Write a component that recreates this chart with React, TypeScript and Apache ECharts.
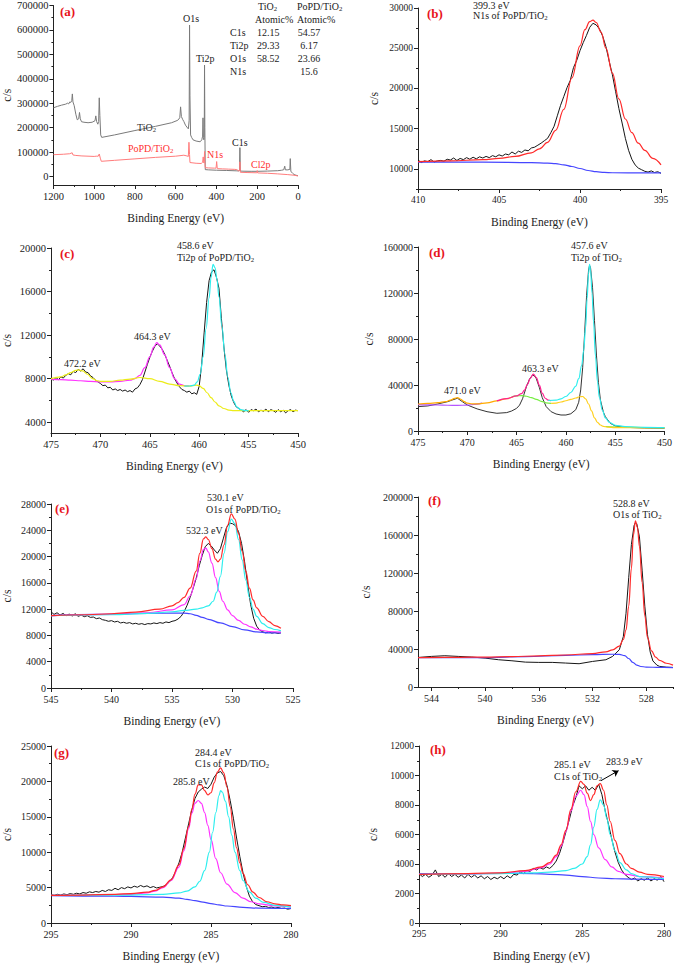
import React, { useEffect, useRef } from "react";
import * as echarts from "echarts";

type P = [number, number][];
const FONT = "'Liberation Serif', serif";
const INK = "#222";

// ---------- (a) survey ----------
const aXTicks = [0, 200, 400, 600, 800, 1000, 1200];
const aYTicks = [0, 100000, 200000, 300000, 400000, 500000, 600000, 700000];
const aTiO2: P = [[1200,281000],[1180,287000],[1160,292000],[1140,296000],[1130,300000],[1125,297000],[1120,305000],[1115,303000],[1110,310000],[1107,338000],[1104,305000],[1098,290000],[1090,255000],[1083,232000],[1076,236000],[1072,262000],[1068,236000],[1062,224000],[1050,222000],[1030,220000],[1010,222000],[996,228000],[992,248000],[988,225000],[982,214000],[978,225000],[975,322000],[972,250000],[968,170000],[963,160000],[900,170000],[800,188000],[700,205000],[620,220000],[590,230000],[580,240000],[576,285000],[572,245000],[565,232000],[560,225000],[552,210000],[545,202000],[538,195000],[534,230000],[532,620000],[530,330000],[527,170000],[522,160000],[515,150000],[500,145000],[480,142000],[472,150000],[468,165000],[466,240000],[464,160000],[462,150000],[460,160000],[458.5,456000],[457,200000],[455,28000],[440,27000],[400,25500],[350,24500],[300,23000],[290,22500],[287,26000],[285,118000],[283,22000],[270,21500],[230,21000],[200,21000],[150,22000],[100,23500],[80,25500],[70,27500],[65,42000],[62,27000],[50,27000],[40,29000],[38,73000],[35,20000],[30,17000],[25,12000],[20,8000],[10,5000],[0,3000]];
const aPoPD: P = [[1200,89000],[1150,91000],[1120,93000],[1108,97000],[1104,88000],[1090,86000],[1060,84000],[1000,82000],[990,83000],[980,83000],[975,92000],[970,75000],[965,62000],[900,66000],[800,72000],[700,78000],[600,83000],[560,87000],[545,84000],[538,82000],[535,140000],[532,90000],[530,57000],[500,54000],[475,53000],[468,58000],[465,80000],[462,55000],[460,62000],[458.5,102000],[457,60000],[455,36000],[440,35000],[410,34000],[402,34000],[399,61000],[396,32000],[370,31000],[340,30000],[310,29000],[300,28000],[290,22000],[286,26000],[285,60000],[283,17000],[250,16000],[202,15000],[200,24000],[198,14500],[150,13000],[100,10500],[50,7500],[20,5000],[0,2000]];
const tableElems = ["C1s", "Ti2p", "O1s", "N1s"];
const tableTiO2 = ["12.15", "29.33", "58.52", ""];
const tablePoPD = ["54.57", "6.17", "23.66", "15.6"];

// ---------- (b) N1s PoPD/TiO2 ----------
const bXTicks = [395, 400, 405, 410];
const bYTicks = [10000, 15000, 20000, 25000, 30000];
const bRaw: P = [[410,11100],[409.8,10800],[409.6,11000],[409.4,10900],[409.2,11150],[409,10850],[408.8,11000],[408.6,11050],[408.4,10950],[408.2,11200],[408,11100],[407.8,11350],[407.6,11050],[407.4,11300],[407.2,11150],[407,11400],[406.8,11200],[406.6,11450],[406.4,11250],[406.2,11500],[406,11350],[405.8,11550],[405.6,11400],[405.4,11650],[405.2,11500],[405,11750],[404.8,11600],[404.6,11850],[404.4,11750],[404.2,12100],[404,11850],[403.8,12200],[403.6,12050],[403.4,12350],[403.2,12250],[403,12600],[402.8,12700],[402.6,12950],[402.4,13200],[402.2,13500],[402,13800],[401.8,14500],[401.6,15300],[401.4,16600],[401.2,17900],[401,19000],[400.8,20100],[400.6,21000],[400.4,22600],[400.2,23500],[400,24700],[399.8,25700],[399.6,26600],[399.4,27600],[399.2,28100],[399,27900],[398.8,27400],[398.6,26500],[398.4,25200],[398.2,23400],[398,21700],[397.8,19600],[397.6,17500],[397.4,15700],[397.2,13800],[397,12300],[396.8,11200],[396.6,10500],[396.4,10100],[396.2,9900],[396,9700],[395.8,9600],[395.6,9750],[395.4,9550],[395.2,9650],[395,9450]];
const bFit: P = [[410,10900],[408,11000],[406,11150],[405,11300],[404,11550],[403,12000],[402.5,12500],[402,13300],[401.5,14800],[401,17400],[400.5,21300],[400,25300],[399.7,27300],[399.4,28300],[399.2,28500],[399,28200],[398.7,27000],[398.4,25000],[398,21900],[397.6,18700],[397.2,16200],[396.8,14500],[396.4,13200],[396,12300],[395.5,11300],[395,10500]];
const bBg: P = [[410,10850],[406,10830],[403,10780],[402,10720],[401.5,10650],[401,10500],[400.5,10300],[400,10050],[399.5,9800],[399,9650],[398.5,9560],[398,9520],[395,9500]];

// ---------- (c) Ti2p PoPD/TiO2 ----------
const cXTicks = [450, 455, 460, 465, 470, 475];
const cYTicks = [4000, 8000, 12000, 16000, 20000];
const cRaw: P = [[475,8000],[474.75,7850],[474.5,8100],[474.25,7900],[474,8150],[473.75,8050],[473.5,8300],[473.25,8450],[473,8350],[472.75,8650],[472.5,8550],[472.25,8850],[472,8700],[471.75,8900],[471.5,8600],[471.25,8550],[471,8250],[470.75,8100],[470.5,7850],[470.25,7700],[470,7550],[469.75,7350],[469.5,7400],[469.25,7150],[469,7200],[468.75,6950],[468.5,7050],[468.25,6900],[468,7000],[467.75,6850],[467.5,6950],[467.25,6800],[467,6900],[466.75,6750],[466.5,7050],[466.25,7150],[466,7450],[465.75,7900],[465.5,8600],[465.25,9300],[465,9950],[464.75,10500],[464.5,10950],[464.25,11200],[464,11000],[463.75,10700],[463.5,10250],[463.25,9700],[463,9150],[462.75,8550],[462.5,8000],[462.25,7600],[462,7250],[461.75,7000],[461.5,6900],[461.25,6750],[461,6850],[460.75,6600],[460.5,6700],[460.25,6550],[460,7300],[459.75,9300],[459.5,12200],[459.25,15000],[459,17000],[458.75,17800],[458.5,18000],[458.25,17300],[458,16300],[457.75,13500],[457.5,10900],[457.25,8800],[457,7400],[456.75,6400],[456.5,5800],[456.25,5400],[456,5250],[455.75,5100],[455.5,4950],[455.25,5150],[455,4900],[454.75,5150],[454.5,5050],[454.25,5200],[454,4950],[453.75,5100],[453.5,5000],[453.25,5200],[453,4950],[452.75,5150],[452.5,5050],[452.25,4900],[452,5150],[451.75,4950],[451.5,5100],[451.25,4850],[451,5050],[450.75,5150],[450.5,4950],[450.25,5100],[450,5050]];
const cMag: P = [[475,7950],[474,7900],[473,7850],[472,7800],[471,7750],[470,7700],[469,7700],[468,7750],[467,7850],[466.5,8000],[466,8300],[465.5,9000],[465,10000],[464.6,10900],[464.3,11300],[464,11100],[463.5,10200],[463,9000],[462.5,8000],[462,7500],[461.5,7350],[461,7300]];
const cYel: P = [[475,8000],[474,8150],[473.5,8350],[473,8550],[472.5,8750],[472.2,8800],[471.8,8700],[471.3,8400],[470.8,8000],[470.3,7800],[470,7750],[469,7750],[468,7850],[467,7950],[466,8100],[465,8000],[464,7750],[463,7500],[462,7350],[461,7300],[460.3,7400],[460,7350],[459.6,7100],[459.2,6700],[458.8,6250],[458.4,5850],[458,5500],[457.5,5250],[457,5100],[456.5,5060],[456,5050],[450,5050]];
const cCyan: P = [[461.5,7300],[461,7320],[460.5,7400],[460.2,7700],[459.9,8400],[459.6,10000],[459.3,12600],[459,15400],[458.8,17300],[458.6,18500],[458.4,18200],[458.2,17100],[458,15500],[457.7,12800],[457.4,10200],[457.1,8100],[456.8,6700],[456.5,5900],[456.2,5400],[455.8,5150],[455.3,5060],[455,5050]];

// ---------- (d) Ti2p TiO2 ----------
const dXTicks = [450, 455, 460, 465, 470, 475];
const dYTicks = [0, 40000, 80000, 120000, 160000];
const dRaw: P = [[475,21200],[474,21800],[473,23500],[472,25500],[471.5,27000],[471,28500],[470.5,25500],[470,22600],[469,19200],[468,16800],[467,15400],[466,16000],[465.5,17400],[465,19700],[464.7,22500],[464.4,28000],[464,38600],[463.7,45000],[463.4,48500],[463.2,48000],[463,45500],[462.7,38000],[462.4,29000],[462,21200],[461.5,16800],[461,14800],[460.5,13900],[460,13900],[459.5,15000],[459,18500],[458.7,25000],[458.5,35700],[458.3,55000],[458.1,85000],[457.9,118000],[457.7,140000],[457.6,144000],[457.5,142000],[457.3,125000],[457.1,96000],[456.9,66000],[456.7,42000],[456.5,27000],[456.2,16500],[456,12500],[455.5,6700],[455,4400],[454,3200],[452,2600],[450,2300]];
const dOrange: P = [[475,23500],[474,24000],[473,24600],[472.2,25500],[471.7,26800],[471.3,28300],[471,29000],[470.7,27800],[470.3,25500],[470,24200],[469.5,23600],[469,23600],[468,24500],[467,26200],[466,28200],[465.3,30000]];
const dPurple: P = [[475,23000],[474,22800],[473,22600],[472,22400],[471,22300],[470,22500],[469.3,23200],[468.5,24200]];
const dPink: P = [[467,26200],[466,28200],[465,30500],[464.5,32500],[464.2,35500],[463.9,40500],[463.6,46000],[463.3,49500],[463,46500],[462.7,40000],[462.4,33000],[462.1,28500],[461.8,26800],[461.5,26300]];
const dGreenMid: P = [[465.5,29800],[465,30500],[464.5,30800],[464,30200],[463.5,29000],[463,27500],[462.5,25800],[462,24500],[461.5,24000]];
const dGreenTail: P = [[456,3900],[454,3300],[452,3050],[450,2950]];
const dYellow: P = [[461.5,24000],[461,24300],[460.5,25200],[460,26300],[459.5,27500],[459,28700],[458.6,29800],[458.3,30000],[458,28000],[457.7,23500],[457.4,17500],[457.1,11500],[456.8,7500],[456.5,5200],[456.2,4000],[455.8,3400],[455,3000],[452,2800],[450,2800]];
const dCyan: P = [[461.8,26500],[461,26800],[460.5,28000],[460,30000],[459.5,33500],[459,39000],[458.7,45500],[458.4,57000],[458.2,70000],[458,90000],[457.85,115000],[457.7,137000],[457.6,145000],[457.5,140000],[457.35,120000],[457.2,95000],[457,65000],[456.8,43000],[456.6,29000],[456.3,18000],[456,11500],[455.6,7500],[455,5000],[454,3800],[452,3200],[450,3000]];

// ---------- (e) O1s PoPD/TiO2 ----------
const eXTicks = [525, 530, 535, 540, 545];
const eYTicks = [0, 4000, 8000, 12000, 16000, 20000, 24000, 28000];
const eRaw: P = [[545,11600],[544.75,11200],[544.5,11450],[544.25,11100],[544,11350],[543.75,11000],[543.5,11250],[543.25,10950],[543,11300],[542.75,10900],[542.5,11100],[542.25,10850],[542,11000],[541.75,10750],[541.5,10800],[541.25,10550],[541,10650],[540.75,10400],[540.5,10300],[540.25,10150],[540,10250],[539.75,10050],[539.5,10150],[539.25,9900],[539,10000],[538.75,9850],[538.5,9950],[538.25,9750],[538,9850],[537.75,9700],[537.5,9800],[537.25,9650],[537,9800],[536.75,9750],[536.5,9900],[536.25,9800],[536,9950],[535.75,9850],[535.5,10050],[535.25,9950],[535,10150],[534.75,10250],[534.5,10500],[534.25,10900],[534,11600],[533.75,12600],[533.5,13800],[533.25,15200],[533,16700],[532.75,18600],[532.5,20200],[532.25,21500],[532,22000],[531.75,21600],[531.5,21000],[531.25,20500],[531,21200],[530.75,22800],[530.5,24400],[530.25,25100],[530,25000],[529.75,24700],[529.5,23800],[529.25,22000],[529,19200],[528.75,15800],[528.5,12700],[528.25,10600],[528,9400],[527.75,8800],[527.5,8550],[527.25,8400],[527,8550],[526.75,8350],[526.5,8450],[526.25,8300],[526,8400]];
const eFit: P = [[545,11000],[542,11150],[540,11300],[538,11550],[536,12000],[535,12500],[534.5,13000],[534,13800],[533.5,15200],[533,17800],[532.7,20500],[532.4,22700],[532.2,23000],[532,22600],[531.7,21200],[531.4,19600],[531.2,19200],[531,19600],[530.7,21800],[530.4,24800],[530.1,26500],[529.8,25700],[529.5,23500],[529.2,20800],[528.9,17800],[528.6,15200],[528.3,13400],[528,12200],[527.5,10900],[527,10100],[526.5,9500],[526,9100]];
const eMag: P = [[545,11000],[540,11200],[537,11450],[535,11900],[534,12700],[533.5,14000],[533,16600],[532.7,19300],[532.4,21100],[532.2,21300],[532,20700],[531.7,19000],[531.4,16800],[531.1,14700],[530.8,13200],[530.4,11900],[530,11000],[529.5,10300],[529,9700],[528.5,9300],[528,8950],[527.5,8750],[527,8600],[526,8500]];
const eCyan: P = [[545,11000],[540,11150],[537,11350],[535,11600],[534,11800],[533,12000],[532.5,12200],[532,12500],[531.6,13200],[531.3,14600],[531,17000],[530.7,20500],[530.4,23800],[530.1,25700],[529.8,25000],[529.5,22600],[529.2,19500],[528.9,16400],[528.6,13800],[528.3,12000],[528,10900],[527.5,9800],[527,9200],[526.5,8900],[526,8700]];
const eBg: P = [[545,11000],[541,11200],[537,11350],[535,11400],[534,11400],[533.5,11300],[533,11050],[532.5,10750],[532,10450],[531,9900],[530,9350],[529,8850],[528,8550],[527,8400],[526,8400]];

// ---------- (f) O1s TiO2 ----------
const fXTicks = [528, 532, 536, 540, 544];
const fYTicks = [0, 40000, 80000, 120000, 160000, 200000];
const fRaw: P = [[545,31100],[544,32200],[543,32900],[542,32200],[541,31500],[540,30400],[539,28700],[538,27600],[537,26200],[536,25900],[535,25900],[534,25200],[533,24500],[532,26900],[531,28700],[530.5,32200],[530,39200],[529.7,53100],[529.5,77600],[529.3,115000],[529.1,150000],[528.9,170000],[528.8,173000],[528.7,172000],[528.5,158000],[528.3,123000],[528.1,85000],[527.9,55000],[527.7,37000],[527.5,27500],[527.2,23000],[527,21700],[526.5,20900],[526,20600]];
const fFit: P = [[545,31000],[542,31200],[540,31500],[538,32000],[536,32700],[534,33700],[532,35200],[531,37000],[530.5,39000],[530,43000],[529.7,50000],[529.5,60000],[529.3,85000],[529.1,125000],[528.95,160000],[528.8,175000],[528.65,168000],[528.5,148000],[528.3,110000],[528.1,75000],[527.9,52000],[527.6,38000],[527.3,31500],[527,28000],[526.5,25000],[526,23000]];
const fBg: P = [[545,31000],[540,31000],[537,32000],[534,33300],[532,34100],[530.5,34500],[530,34300],[529.6,33000],[529.3,30000],[529,26000],[528.7,23000],[528.4,21600],[528,21000],[527,20600],[526,20500]];

// ---------- (g) C1s PoPD/TiO2 ----------
const gXTicks = [280, 285, 290, 295];
const gYTicks = [0, 5000, 10000, 15000, 20000, 25000];
const gRaw: P = [[295,4000],[294.8,3900],[294.6,4050],[294.4,3950],[294.2,4100],[294,4000],[293.8,4150],[293.6,4050],[293.4,4200],[293.2,4100],[293,4300],[292.8,4200],[292.6,4400],[292.4,4300],[292.2,4450],[292,4350],[291.8,4600],[291.6,4450],[291.4,4700],[291.2,4600],[291,4900],[290.8,4700],[290.6,5000],[290.4,4850],[290.2,5100],[290,4950],[289.8,5200],[289.6,5050],[289.4,5300],[289.2,5100],[289,5250],[288.8,5000],[288.6,5150],[288.4,4950],[288.2,5050],[288,5150],[287.8,5400],[287.6,5800],[287.4,6400],[287.2,7300],[287,8500],[286.8,10000],[286.6,12000],[286.4,14000],[286.2,16000],[286,17600],[285.8,18500],[285.6,18900],[285.4,19200],[285.2,19000],[285,19600],[284.8,20600],[284.6,21200],[284.4,21400],[284.2,20800],[284,19400],[283.8,17300],[283.6,14800],[283.4,12000],[283.2,9400],[283,7100],[282.8,5200],[282.6,3800],[282.4,3000],[282.2,2600],[282,2450],[281.8,2300],[281.6,2350],[281.4,2200],[281.2,2250],[281,2100],[280.8,2200],[280.6,2050],[280.4,2100],[280.2,1950],[280,2050]];
const gFit: P = [[295,3900],[293,3950],[291,4050],[290,4150],[289,4350],[288.5,4600],[288,5100],[287.5,6100],[287,8200],[286.7,10500],[286.4,13600],[286.2,16000],[286,18200],[285.8,19500],[285.6,19500],[285.4,18700],[285.2,18100],[285,18400],[284.8,19800],[284.6,21300],[284.4,21900],[284.2,21200],[284,19200],[283.8,16400],[283.6,13300],[283.4,10600],[283.2,8500],[283,7000],[282.7,5400],[282.4,4400],[282,3600],[281.5,3000],[281,2700],[280.5,2550],[280,2450]];
const gMag: P = [[295,3900],[292,3950],[290,4050],[289,4250],[288.5,4500],[288,5000],[287.5,6000],[287,7900],[286.7,10200],[286.4,13300],[286.2,15500],[286,16900],[285.8,17300],[285.6,16900],[285.4,15600],[285.2,13800],[285,11800],[284.7,9100],[284.4,7100],[284,5500],[283.5,4300],[283,3500],[282.5,3000],[282,2700],[281,2400],[280,2250]];
const gCyan: P = [[295,3900],[290,3950],[288,4050],[287,4250],[286.5,4500],[286,5100],[285.7,5900],[285.4,7400],[285.1,10000],[284.9,12800],[284.7,15600],[284.5,18000],[284.4,18700],[284.3,18500],[284.1,17200],[283.9,15000],[283.7,12400],[283.5,10000],[283.2,7400],[283,6000],[282.6,4400],[282.2,3500],[281.7,2900],[281,2500],[280,2250]];
const gBg: P = [[295,3850],[292,3800],[290,3750],[288,3650],[287,3500],[286.5,3350],[286,3150],[285.5,2950],[285,2750],[284.5,2550],[284,2400],[283,2200],[282,2100],[280,2050]];

// ---------- (h) C1s TiO2 ----------
const hXTicks = [280, 285, 290, 295];
const hYTicks = [0, 2000, 4000, 6000, 8000, 10000, 12000];
const hRaw: P = [[295,3350],[294.8,3150],[294.6,3300],[294.4,3100],[294.2,3250],[294,3600],[293.8,3150],[293.6,3300],[293.4,3100],[293.2,3350],[293,3150],[292.8,3300],[292.6,3100],[292.4,3250],[292.2,3050],[292,3300],[291.8,3100],[291.6,3250],[291.4,3050],[291.2,3200],[291,3000],[290.8,3150],[290.6,2950],[290.4,3100],[290.2,3000],[290,3150],[289.8,3000],[289.6,3200],[289.4,3050],[289.2,3300],[289,3250],[288.8,3450],[288.6,3350],[288.4,3550],[288.2,3500],[288,3700],[287.8,3600],[287.6,3750],[287.4,3650],[287.2,3800],[287,3700],[286.8,3900],[286.6,4200],[286.4,4700],[286.2,5400],[286,6200],[285.8,7000],[285.6,7900],[285.4,8500],[285.2,9300],[285,9100],[284.8,9300],[284.6,9000],[284.4,9200],[284.2,9000],[284,9400],[283.8,8700],[283.6,7600],[283.4,6700],[283.2,5700],[283,4800],[282.8,4100],[282.6,3600],[282.4,3300],[282.2,3100],[282,2950],[281.8,3050],[281.6,2850],[281.4,3000],[281.2,2900],[281,3050],[280.8,2850],[280.6,3000],[280.4,2900],[280.2,3150],[280,2800]];
const hFit: P = [[295,3300],[292,3350],[290,3400],[288.5,3550],[287.5,3800],[287,4100],[286.6,4600],[286.3,5300],[286,6300],[285.7,7700],[285.4,8900],[285.1,9600],[284.9,9400],[284.7,8800],[284.5,8300],[284.3,8700],[284.1,9300],[283.9,9450],[283.7,9000],[283.5,8000],[283.3,6900],[283,5600],[282.7,4700],[282.3,4000],[282,3700],[281.5,3450],[281,3300],[280,3150]];
const hMag: P = [[295,3300],[292,3330],[290,3370],[288.5,3500],[287.5,3750],[287,4000],[286.6,4500],[286.3,5200],[286,6200],[285.7,7600],[285.4,8600],[285.1,9000],[284.9,8700],[284.7,7900],[284.5,6900],[284.3,6000],[284,5100],[283.6,4300],[283.2,3800],[282.8,3500],[282.3,3300],[281.5,3150],[280,3050]];
const hCyan: P = [[295,3300],[290,3350],[288,3400],[287,3450],[286,3550],[285.5,3700],[285,4000],[284.7,4500],[284.5,5300],[284.3,6500],[284.1,7700],[283.9,8350],[283.7,8000],[283.5,7100],[283.3,6000],[283,4900],[282.7,4100],[282.3,3600],[282,3350],[281.5,3150],[280,3000]];
const hBg: P = [[295,3350],[292,3350],[290,3360],[288,3350],[287,3300],[286,3250],[285,3150],[284,3050],[283,3000],[282,2980],[280,2950]];
const hArrow: P = [[283.86, 9650], [282.78, 10330]];

// ---------- colours ----------
const C = {
  raw: "#151515", red: "#ff2a2a", blue: "#4646ff", mag: "#ff33ff", cyan: "#2eeeee",
  yel: "#ecec1a", orange: "#ffaa00", pink: "#ff2090", green: "#77ee44", purple: "#b455ff",
  grey: "#7a7a7a", lightRed: "#ff7c7c",
};

function minors(major: number[], min: number, max: number) {
  const out: number[] = [];
  const step = major[1] - major[0];
  if (major[0] - step / 2 >= min) out.push(major[0] - step / 2);
  for (let i = 0; i < major.length - 1; i++) out.push((major[i] + major[i + 1]) / 2);
  const last = major[major.length - 1];
  if (last + step / 2 <= max) out.push(last + step / 2);
  return out;
}

const panels = [
  { box: [45, 5, 253, 180], x: [0, 1200], y: [-35000, 700000], xt: aXTicks, yt: aYTicks, fs: 10.5, gy: 35 },
  { box: [418, 8, 243, 181], x: [395, 410], y: [7500, 30000], xt: bXTicks, yt: bYTicks, fs: 9.5, gy: 38 },
  { box: [50, 248, 248, 185], x: [450, 475], y: [3000, 20000], xt: cXTicks, yt: cYTicks, fs: 10.5, gy: 38 },
  { box: [418, 247, 248, 184], x: [450, 475], y: [0, 160000], xt: dXTicks, yt: dYTicks, fs: 10, gy: 43 },
  { box: [45, 504, 248, 184], x: [525, 545], y: [0, 28000], xt: eXTicks, yt: eYTicks, fs: 10, gy: 38 },
  { box: [418, 497, 255, 190], x: [526, 545], y: [0, 200000], xt: fXTicks, yt: fYTicks, fs: 10, gy: 46 },
  { box: [45, 746, 246, 183], x: [280, 295], y: [0, 25000], xt: gXTicks, yt: gYTicks, fs: 10, gy: 38 },
  { box: [419, 746, 245, 183], x: [280, 295], y: [0, 12000], xt: hXTicks, yt: hYTicks, fs: 9.5, gy: 40 },
];

function S(i: number, data: P, color: string, width = 1.1, smooth: boolean | number = false): any {
  return {
    type: "line", xAxisIndex: i * 2, yAxisIndex: i * 2, data, symbol: "none", showSymbol: false,
    smooth, smoothMonotone: smooth ? "x" : undefined, lineStyle: { color, width }, itemStyle: { color },
    silent: true, z: 2,
  };
}

function rich(s: string, fs: number, color: string, weight = "normal") {
  const text = "{n|" + s.replace(/_(\d)/g, "}{s|$1}{n|") + "}";
  return {
    text,
    fill: color,
    fontSize: fs,
    fontFamily: FONT,
    fontWeight: weight,
    rich: {
      n: { fontSize: fs, fontFamily: FONT, fill: color, fontWeight: weight },
      s: { fontSize: fs * 0.68, fontFamily: FONT, fill: color, padding: [fs * 0.55, 0, 0, 0] },
    },
  };
}

function T(x: number, y: number, s: string, opt: any = {}) {
  const fs = opt.fs ?? 10;
  return {
    type: "text", x, y, silent: true, z: 10,
    style: { ...rich(s, fs, opt.color ?? INK, opt.weight ?? "normal"), align: opt.align ?? "left", verticalAlign: "middle" },
  };
}

function buildOption() {
  const grid: any[] = [], xAxis: any[] = [], yAxis: any[] = [];
  panels.forEach((p, i) => {
    const [l, t, w, h] = p.box;
    grid.push({ left: l, top: t, width: w, height: h, containLabel: false });
    const line = { lineStyle: { color: INK, width: 1 } };
    const lab = { fontSize: p.fs, fontFamily: FONT, color: INK };
    xAxis.push({
      type: "value", gridIndex: i, min: p.x[0], max: p.x[1], inverse: true, position: "bottom",
      axisLine: { show: true, onZero: false, ...line }, splitLine: { show: false },
      axisTick: { show: true, length: 4, customValues: p.xt, ...line },
      axisLabel: { ...lab, margin: 6, customValues: p.xt, formatter: (v: number) => String(v) },
      name: "Binding Energy (eV)", nameLocation: "middle", nameGap: 27,
      nameTextStyle: { fontSize: 11.5, fontFamily: FONT, fontWeight: "normal", color: INK },
    });
    xAxis.push({
      type: "value", gridIndex: i, min: p.x[0], max: p.x[1], inverse: true, position: "bottom",
      axisLine: { show: false, onZero: false }, splitLine: { show: false },
      axisTick: { show: true, length: 2, customValues: minors(p.xt, p.x[0], p.x[1]), ...line },
      axisLabel: { show: false },
    });
    yAxis.push({
      type: "value", gridIndex: i, min: p.y[0], max: p.y[1], position: "left",
      axisLine: { show: true, onZero: false, ...line }, splitLine: { show: false },
      axisTick: { show: true, length: 4, customValues: p.yt, ...line },
      axisLabel: { ...lab, margin: 5, customValues: p.yt, formatter: (v: number) => String(v) },
      name: "c/s", nameLocation: "middle", nameGap: p.gy,
      nameTextStyle: { fontSize: 11.5, fontFamily: FONT, fontWeight: "normal", color: INK },
    });
    yAxis.push({
      type: "value", gridIndex: i, min: p.y[0], max: p.y[1], position: "left",
      axisLine: { show: false, onZero: false }, splitLine: { show: false },
      axisTick: { show: true, length: 2, customValues: minors(p.yt, p.y[0], p.y[1]), ...line },
      axisLabel: { show: false },
    });
  });

  const series: any[] = [
    S(0, aTiO2, C.grey, 1), S(0, aPoPD, C.lightRed, 1),
    S(1, bRaw, C.raw, 1), S(1, bBg, C.blue, 1.2, 0.4), S(1, bFit, C.red, 1.2, 0.4),
    S(2, cRaw, C.raw, 1), S(2, cMag, C.mag, 1.2, 0.4), S(2, cYel, C.yel, 1.2, 0.4), S(2, cCyan, C.cyan, 1.2, 0.4),
    S(3, dRaw, "#333", 1), S(3, dPurple, C.purple, 1.2, 0.4), S(3, dOrange, C.orange, 1.2, 0.4),
    S(3, dGreenMid, C.green, 1.2, 0.4), S(3, dGreenTail, C.green, 1.2, 0.4), S(3, dYellow, "#ffd020", 1.2, 0.4),
    S(3, dPink, C.pink, 1.2, 0.4), S(3, dCyan, C.cyan, 1.2, 0.4),
    S(4, eRaw, C.raw, 1), S(4, eBg, C.blue, 1.2, 0.4), S(4, eMag, C.mag, 1.2, 0.4), S(4, eCyan, C.cyan, 1.2, 0.4), S(4, eFit, C.red, 1.2, 0.4),
    S(5, fRaw, C.raw, 1), S(5, fBg, C.blue, 1.2, 0.4), S(5, fFit, C.red, 1.2, 0.4),
    S(6, gRaw, C.raw, 1), S(6, gBg, C.blue, 1.2, 0.4), S(6, gMag, C.mag, 1.2, 0.4), S(6, gCyan, C.cyan, 1.2, 0.4), S(6, gFit, C.red, 1.2, 0.4),
    S(7, hRaw, C.raw, 1), S(7, hBg, C.blue, 1.2, 0.4), S(7, hMag, C.mag, 1.2, 0.4), S(7, hCyan, C.cyan, 1.2, 0.4),
    {
      ...S(7, hFit, C.red, 1.2, 0.4),
      markLine: {
        silent: true, symbol: ["none", "arrow"], symbolSize: 6, label: { show: false },
        lineStyle: { color: "#000", width: 1, type: "solid" },
        data: [[{ coord: hArrow[0] }, { coord: hArrow[1] }]],
      },
    },
  ];

  const red = "#e8141c";
  const lw = { fs: 13, color: red, weight: "bold" };
  const g: any[] = [
    T(60, 11, "(a)", lw), T(427, 13, "(b)", lw), T(60, 253, "(c)", lw), T(429, 252, "(d)", lw),
    T(55, 508, "(e)", lw), T(428, 500, "(f)", lw), T(54, 752, "(g)", lw), T(430, 749, "(h)", lw),
    // (a) table
    T(258, 6, "TiO_2"), T(297, 6, "PoPD/TiO_2"), T(255, 19, "Atomic%"), T(297, 19, "Atomic%"),
    ...tableElems.map((s, k) => T(230, 32 + k * 13, s)),
    ...tableTiO2.map((s, k) => T(257, 32 + k * 13, s)),
    ...tablePoPD.map((s, k) => T(309, 32 + k * 13, s, { align: "center" })),
    T(183, 18, "O1s"), T(196, 58, "Ti2p"), T(137, 127, "TiO_2", { color: "#333" }),
    T(128, 148, "PoPD/TiO_2", { color: "#ff3030" }), T(207, 154, "N1s", { color: "#ff3030" }),
    T(232, 142, "C1s"), T(251, 164, "Cl2p", { color: "#ff3030" }),
    // (b)
    T(473, 5, "399.3 eV"), T(473, 15, "N1s of PoPD/TiO_2"),
    // (c)
    T(177, 245, "458.6 eV"), T(177, 257, "Ti2p of PoPD/TiO_2"), T(134, 336, "464.3 eV"), T(64, 363, "472.2 eV"),
    // (d)
    T(571, 245, "457.6 eV"), T(571, 257, "Ti2p of TiO_2"), T(522, 368, "463.3 eV"), T(444, 390, "471.0 eV"),
    // (e)
    T(207, 497, "530.1 eV"), T(206, 509, "O1s of PoPD/TiO_2"), T(186, 530, "532.3 eV"),
    // (f)
    T(613, 503, "528.8 eV"), T(613, 514, "O1s of TiO_2"),
    // (g)
    T(195, 752, "284.4 eV"), T(195, 763, "C1s of PoPD/TiO_2"), T(173, 781, "285.8 eV"),
    // (h)
    T(554, 764, "285.1 eV"), T(554, 776, "C1s of TiO_2"), T(606, 761, "283.9 eV"),
  ];

  return {
    animation: false, backgroundColor: "#fff",
    textStyle: { fontFamily: FONT, color: INK },
    grid, xAxis, yAxis, series, graphic: g,
  };
}

export default function App() {
  const ref = useRef<HTMLDivElement>(null);
  useEffect(() => {
    if (!ref.current) return;
    const chart = echarts.init(ref.current, undefined, { renderer: "svg" });
    chart.setOption(buildOption() as any);
    return () => chart.dispose();
  }, []);
  return <div ref={ref} style={{ width: 675, height: 963, position: "absolute", left: 0, top: 0 }} />;
}
